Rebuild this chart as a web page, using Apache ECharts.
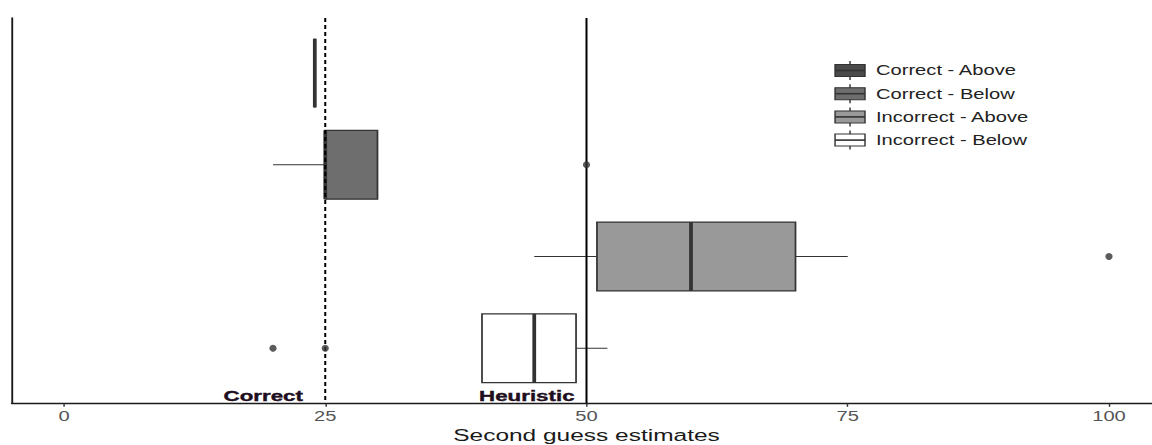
<!DOCTYPE html>
<html>
<head>
<meta charset="utf-8">
<script src="https://cdn.jsdelivr.net/npm/echarts@6/dist/echarts.min.js"></script>
<style>
  html, body { margin: 0; padding: 0; background: #ffffff; overflow: hidden; }
  #wrap { width: 1152px; height: 445px; overflow: hidden; }
  /* the chart is laid out at 800px wide and widened horizontally to 1152px */
  #chart { width: 800px; height: 445px; transform: scaleX(1.44); transform-origin: 0 0; }
</style>
</head>
<body>
<div id="wrap"><div id="chart"></div></div>
<script>
// ---- data -------------------------------------------------------------
const categories = ['Correct - Above', 'Correct - Below', 'Incorrect - Above', 'Incorrect - Below'];
const whiskerLow  = [24, 20, 45, 40];
const quartile1   = [24, 25, 51, 40];
const medians     = [24, 25, 60, 45];
const quartile3   = [24, 30, 70, 49];
const whiskerHigh = [24, 30, 75, 52];
const outliers    = [[], [50], [100], [20, 25]];
const xTicks      = [0, 25, 50, 75, 100];
const refValues   = [25, 50];
const refLabels   = ['Correct', 'Heuristic'];
const xTitle      = 'Second guess estimates';

// ---- styles -----------------------------------------------------------
const boxFills = ['#4a4a4a', '#6e6e6e', '#999999', '#ffffff'];
const ink = '#333333';
const FONT = '"Liberation Sans", Arial, sans-serif';
const Y_MIN = 0.4, Y_MAX = 4.6, BOX_HALF = 0.375;

// category i sits on row (n - i), first category on top
const rowOf = i => categories.length - i;

const outlierPoints = [];
outliers.forEach((list, i) => list.forEach(v => outlierPoints.push([v, rowOf(i)])));

function renderBox(params, api) {
  const i = api.value(0);
  const y = rowOf(i);
  const top = api.coord([0, y + BOX_HALF])[1];
  const bottom = api.coord([0, y - BOX_HALF])[1];
  const mid = api.coord([0, y])[1];
  const px = v => api.coord([v, y])[0];
  const lo = px(whiskerLow[i]), q1 = px(quartile1[i]), md = px(medians[i]);
  const q3 = px(quartile3[i]), hi = px(whiskerHigh[i]);
  const children = [];
  if (lo < q1) children.push({ type: 'line', shape: { x1: lo, y1: mid, x2: q1, y2: mid }, style: { stroke: ink, lineWidth: 1 } });
  if (hi > q3) children.push({ type: 'line', shape: { x1: q3, y1: mid, x2: hi, y2: mid }, style: { stroke: ink, lineWidth: 1 } });
  children.push({ type: 'rect', shape: { x: q1, y: top, width: q3 - q1, height: bottom - top },
                  style: { fill: boxFills[i], stroke: ink, lineWidth: 1.2 } });
  children.push({ type: 'line', shape: { x1: md, y1: top, x2: md, y2: bottom },
                  style: { stroke: ink, lineWidth: 2.6 } });
  return { type: 'group', children };
}

// gap between each reference label and its line, in px
const refLabelGap = [15.5, 8.3];
function renderRef(params, api) {
  const i = api.value(1);
  const v = api.value(0);
  const [x, yTop] = api.coord([v, Y_MAX]);
  const yBottom = api.coord([v, Y_MIN])[1];
  return {
    type: 'group',
    children: [
      { type: 'line', shape: { x1: x, y1: yTop, x2: x, y2: yBottom },
        style: { stroke: '#000', lineWidth: 1.4, lineDash: i === 0 ? [4, 3] : null } },
      { type: 'text', x: x - refLabelGap[i], y: yBottom - 8,
        style: { text: refLabels[i], fill: '#1e0e1e', font: 'bold 15.5px ' + FONT,
                 align: 'right', verticalAlign: 'middle', stroke: '#1e0e1e', lineWidth: 0.4 } }
    ]
  };
}

// legend drawn as box glyphs next to the labels
const legendItems = [];
categories.forEach((name, i) => {
  const cy = 70.5 + i * 23.2;
  legendItems.push(
    { type: 'line', shape: { x1: 590.3, y1: cy - 9.5, x2: 590.3, y2: cy + 9.5 }, style: { stroke: ink, lineWidth: 1 } },
    { type: 'rect', shape: { x: 579.9, y: cy - 6, width: 20.8, height: 12 }, style: { fill: boxFills[i], stroke: ink, lineWidth: 1 } },
    { type: 'line', shape: { x1: 579.9, y1: cy, x2: 600.7, y2: cy }, style: { stroke: ink, lineWidth: 1.6 } },
    { type: 'text', x: 608.3, y: cy, style: { text: name, fill: '#222', font: '14px ' + FONT, verticalAlign: 'middle' } }
  );
});

const chart = echarts.init(document.getElementById('chart'), null, { renderer: 'svg' });
chart.setOption({
  animation: false,
  backgroundColor: '#ffffff',
  grid: { left: 8.16, right: -6.42, top: 18, bottom: 41.7, outerBoundsMode: 'none', containLabel: false },
  xAxis: {
    type: 'value', min: -5, max: 105,
    axisLine: { show: true, onZero: false, lineStyle: { color: '#1a1a1a', width: 1.3 } },
    axisTick: { show: true, customValues: xTicks, length: 3.5, lineStyle: { color: '#333', width: 1 } },
    axisLabel: { show: true, customValues: xTicks, color: '#555', fontSize: 14, fontFamily: FONT, margin: 6 },
    splitLine: { show: false },
    name: xTitle, nameLocation: 'middle', nameGap: 23, nameMoveOverlap: false,
    nameTextStyle: { color: '#1a1a1a', fontSize: 17, fontFamily: FONT, verticalAlign: 'top' }
  },
  yAxis: {
    type: 'value', min: Y_MIN, max: Y_MAX,
    axisLine: { show: true, onZero: false, lineStyle: { color: '#1a1a1a', width: 1.3 } },
    axisTick: { show: false }, axisLabel: { show: false }, splitLine: { show: false }
  },
  series: [
    { type: 'custom', name: 'boxes', renderItem: renderBox, data: categories.map((c, i) => [i]), z: 2 },
    { type: 'scatter', name: 'outliers', data: outlierPoints, symbolSize: [5, 7],
      itemStyle: { color: ink }, z: 4 },
    { type: 'custom', name: 'reference', renderItem: renderRef, clip: false,
      data: refValues.map((v, i) => [v, i]), z: 3 }
  ],
  graphic: { elements: legendItems }
});
</script>
</body>
</html>
